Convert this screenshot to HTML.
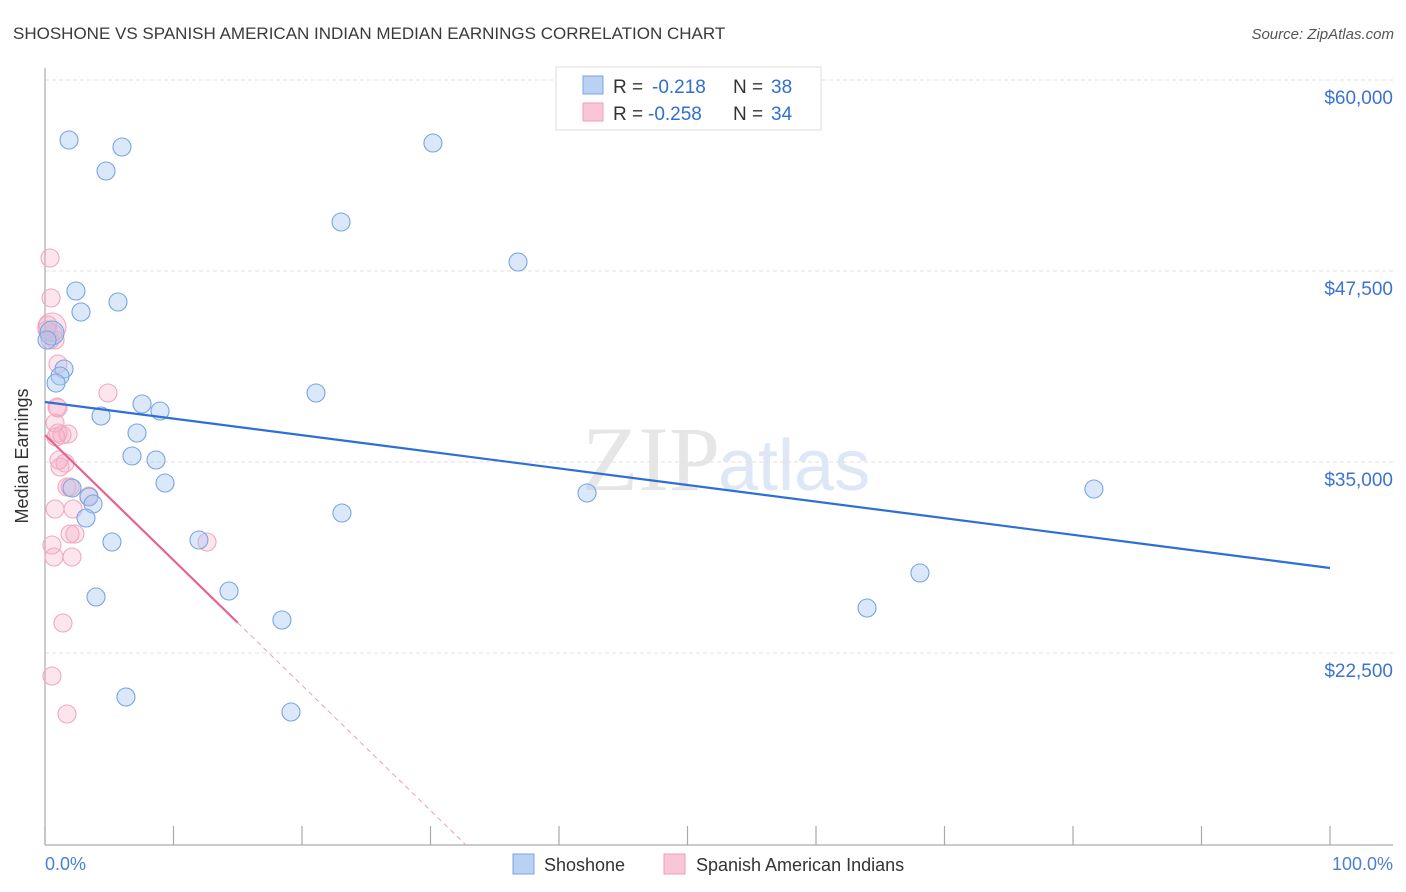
<!DOCTYPE html>
<html><head><meta charset="utf-8"><style>
body{margin:0;background:#fff;font-family:"Liberation Sans",sans-serif}
svg{display:block}
</style></head><body>
<svg id="chart" width="1406" height="892">
<text x="13" y="39" font-size="17" fill="#3a3a3a">SHOSHONE VS SPANISH AMERICAN INDIAN MEDIAN EARNINGS CORRELATION CHART</text>
<text x="1394" y="39" font-size="15" fill="#555" font-style="italic" text-anchor="end">Source: ZipAtlas.com</text>
<text x="720" y="490" font-size="92" fill="#e6e6e6" text-anchor="end" font-family="Liberation Serif,serif">ZIP</text>
<text x="718" y="490" font-size="72" fill="#dde7f5">atlas</text>
<g id="grid"></g>
<line x1="45" y1="68" x2="45" y2="845" stroke="#aaa" stroke-width="1.2"/>
<line x1="45" y1="845" x2="1393" y2="845" stroke="#aaa" stroke-width="1.2"/>
<g id="xticks"></g>
<text x="28" y="456" font-size="18" fill="#333" text-anchor="middle" transform="rotate(-90 28 456)">Median Earnings</text>
<text x="45" y="870" font-size="18" fill="#4a7fd4">0.0%</text>
<text x="1393" y="870" font-size="18" fill="#4a7fd4" text-anchor="end">100.0%</text>
<g id="pink"></g>
<g id="blue"></g>
<g id="trends"></g>
<g>
<rect x="556" y="67" width="265" height="63" fill="#fff" stroke="#ddd"/>
<rect x="583" y="76" width="20" height="18" fill="#b9d1f3" stroke="#7aa4e0"/>
<rect x="583" y="103" width="20" height="18" fill="#f9c6d6" stroke="#ef9fb9"/>
<text x="613" y="93" font-size="19" fill="#333">R =</text>
<text x="652" y="93" font-size="19" fill="#2f6fd0">-0.218</text>
<text x="733" y="93" font-size="19" fill="#333">N =</text>
<text x="771" y="93" font-size="19" fill="#2f6fd0">38</text>
<text x="613" y="120" font-size="19" fill="#333">R =</text>
<text x="648" y="120" font-size="19" fill="#2f6fd0">-0.258</text>
<text x="733" y="120" font-size="19" fill="#333">N =</text>
<text x="771" y="120" font-size="19" fill="#2f6fd0">34</text>
</g>
<rect x="513" y="854" width="21" height="20" fill="#b9d1f3" stroke="#7aa4e0"/>
<text x="544" y="871" font-size="18" fill="#333">Shoshone</text>
<rect x="664" y="854" width="21" height="20" fill="#f9c6d6" stroke="#ef9fb9"/>
<text x="696" y="871" font-size="18" fill="#333">Spanish American Indians</text>
</svg>
<script>
const yTicks=[60000,47500,35000,22500];
const yTickLabels=["$60,000","$47,500","$35,000","$22,500"];
const xTickPcts=[0,10,20,30,40,50,60,70,80,90,100];
const blueX=[1.87,5.99,4.75,30.19,23.04,36.81,2.41,2.80,5.68,0.54,0.16,1.48,1.17,0.86,7.55,8.95,4.36,7.16,6.77,8.64,9.34,2.10,3.42,3.74,3.19,5.21,11.98,14.32,3.97,6.30,21.09,42.18,81.63,23.11,68.09,63.97,18.44,19.14];
const blueY=[56073,55615,54045,55877,50707,48089,46191,44817,45471,43442,42984,41086,40628,40170,38796,38338,38010,36898,35393,35131,33626,33298,32709,32251,31335,29764,29895,26558,26165,19620,39516,32971,33233,31662,27736,25445,24660,18639];
const pinkX=[0.39,0.47,0.54,0.62,0.78,0.23,0.39,1.01,4.90,0.93,1.01,0.78,1.01,1.79,1.32,0.86,1.09,1.56,1.17,1.71,1.95,3.42,0.78,2.18,1.95,2.33,0.54,0.70,2.10,12.61,1.40,0.54,1.71,0.16];
const pinkY=[48351,45733,43835,43442,42984,43966,42984,41414,39516,38599,38534,37552,36898,36833,36767,36636,35131,34935,34673,33364,33364,32775,31924,31924,30288,30288,29568,28783,28783,29764,24463,20995,18508,43639];
const blueTrend=[38927,28063];
const pinkTrend=[36767,24332];
const pinkSolidEnd=15;
const NS="http://www.w3.org/2000/svg";
const xs=p=>45+p*12.85;
const ys=v=>80+(60000-v)/12500*191;
function mk(tag,attrs,parent){const e=document.createElementNS(NS,tag);for(const k in attrs)e.setAttribute(k,attrs[k]);parent.appendChild(e);return e;}
const grid=document.getElementById('grid');
yTicks.forEach((v,i)=>{
 const l=mk('line',{x1:45,x2:1393,y1:ys(v),y2:ys(v),stroke:'#e2e2e2','stroke-dasharray':'4,3'},grid);
 
 
 const t=mk('text',{x:1393,y:ys(v)+24,'font-size':19,fill:'#3b73d1','text-anchor':'end'},grid);
 t.textContent=yTickLabels[i];
 
 
});
const xt=document.getElementById('xticks');
xTickPcts.forEach(p=>{
 const l=mk('line',{x1:xs(p),x2:xs(p),y1:826,y2:845,stroke:'#aaa','stroke-width':1.2},xt);
 
 
});
const pg=document.getElementById('pink');
pinkX.forEach((p,i)=>{
 const c=mk('circle',{cx:xs(p),cy:ys(pinkY[i]),r:(i===2?14:9),fill:'rgba(246,168,194,0.3)',stroke:'#f0a8c0','stroke-width':1.1},pg);
 
 
});
const bg=document.getElementById('blue');
blueX.forEach((p,i)=>{
 const c=mk('circle',{cx:xs(p),cy:ys(blueY[i]),r:(i===9?12:9),fill:'rgba(165,198,240,0.4)',stroke:'#78a5e2','stroke-width':1.1},bg);
 
 
});
const tg=document.getElementById('trends');
const bl=mk('line',{x1:xs(0),y1:ys(blueTrend[0]),x2:xs(100),y2:ys(blueTrend[1]),stroke:'#2d6fd6','stroke-width':2.2},tg);


const pv=p=>pinkTrend[0]+(pinkTrend[1]-pinkTrend[0])*p/15.18;
const pl=mk('line',{x1:xs(0),y1:ys(pv(0)),x2:xs(pinkSolidEnd),y2:ys(pv(pinkSolidEnd)),stroke:'#e8618c','stroke-width':2.2},tg);


const pEnd=15.18*(pinkTrend[0]-9935)/(pinkTrend[0]-pinkTrend[1]);
const pd=mk('line',{x1:xs(pinkSolidEnd),y1:ys(pv(pinkSolidEnd)),x2:xs(pEnd),y2:ys(pv(pEnd)),stroke:'#eaa0b8','stroke-width':1,'stroke-dasharray':'5,4'},tg);


</script>
</body></html>
